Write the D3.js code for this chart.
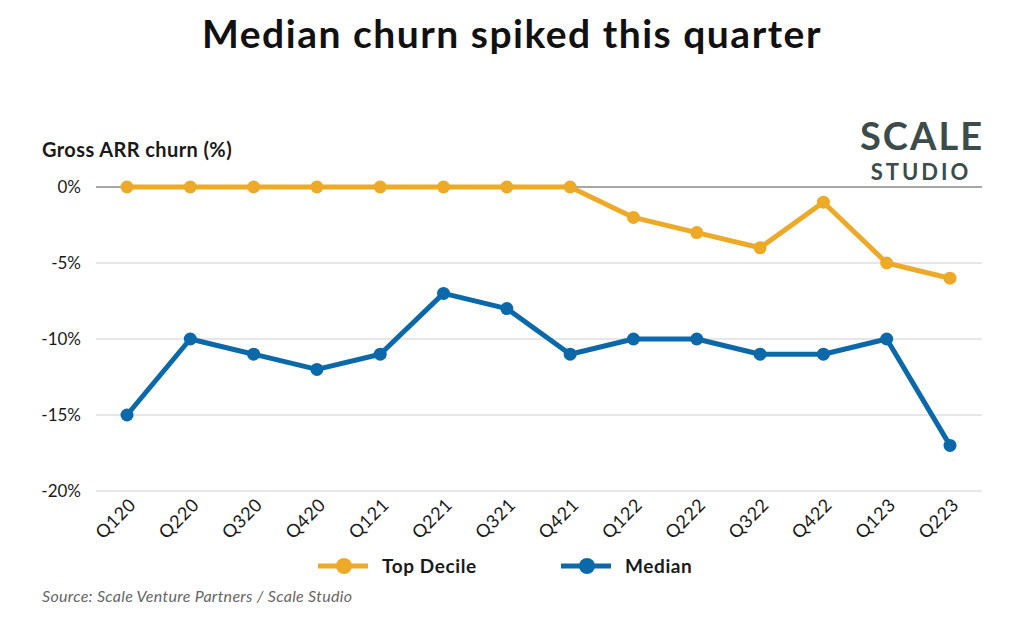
<!DOCTYPE html>
<html>
<head>
<meta charset="utf-8">
<script src="https://cdn.jsdelivr.net/npm/d3@7"></script>
<style>
  body { margin: 0; background: #fff; }
  text { font-family: Lato, "Noto Sans", sans-serif; }
</style>
</head>
<body>
<script>
// data
var quarters = ['Q120','Q220','Q320','Q420','Q121','Q221','Q321','Q421','Q122','Q222','Q322','Q422','Q123','Q223'];
var topDecile = [0,0,0,0,0,0,0,0,-2,-3,-4,-1,-5,-6];
var median = [-15,-10,-11,-12,-11,-7,-8,-11,-10,-10,-11,-11,-10,-17];
var yTicks = [0,-5,-10,-15,-20];

var W = 1024, H = 626;
var orange = '#ECAA28', blue = '#0B69AA';

var svg = d3.select('body').append('svg')
  .attr('width', W).attr('height', H);

// title
svg.append('text')
  .attr('x', 512).attr('y', 48)
  .attr('text-anchor', 'middle')
  .style('font-size', '39px').style('font-weight', 700).style('fill', '#111')
  .style('letter-spacing', '1.5px')
  .text('Median churn spiked this quarter');

// axis title
svg.append('text')
  .attr('x', 42).attr('y', 157)
  .style('font-size', '20px').style('font-weight', 700).style('fill', '#1a1a1a')
  .style('letter-spacing', '0.4px')
  .text('Gross ARR churn (%)');

// logo
svg.append('text')
  .attr('x', 922).attr('y', 150)
  .attr('text-anchor', 'middle')
  .style('font-size', '38px').style('font-weight', 700).style('fill', '#3b4c4a')
  .style('letter-spacing', '2px')
  .text('SCALE');
svg.append('text')
  .attr('x', 921).attr('y', 180)
  .attr('text-anchor', 'middle')
  .style('font-size', '22px').style('font-weight', 700).style('fill', '#3b4c4a')
  .style('letter-spacing', '3px')
  .text('STUDIO');

var x = d3.scalePoint().domain(quarters).range([127, 950]);
var y = d3.scaleLinear().domain([-20, 0]).range([491, 187]);

// grid
svg.append('g').selectAll('line').data(yTicks).join('line')
  .attr('x1', 96).attr('x2', 982)
  .attr('y1', d => y(d)).attr('y2', d => y(d))
  .attr('stroke', d => d === 0 ? '#8a8a8a' : '#cfcfd4')
  .attr('stroke-width', d => d === 0 ? 1.3 : 1.2);

// y labels
svg.append('g').selectAll('text').data(yTicks).join('text')
  .attr('x', 81).attr('y', d => y(d) + 6)
  .attr('text-anchor', 'end')
  .style('font-size', '17px').style('fill', '#1a1a1a')
  .text(d => d + '%');

// x labels
svg.append('g').selectAll('text').data(quarters).join('text')
  .attr('text-anchor', 'end')
  .attr('transform', d => 'translate(' + (x(d) + 10) + ',506) rotate(-45)')
  .style('font-size', '18px').style('fill', '#1a1a1a')
  .style('letter-spacing', '0.6px')
  .text(d => d);

var line = d3.line().x((d, i) => x(quarters[i])).y(d => y(d));

function drawSeries(vals, color) {
  svg.append('path').datum(vals)
    .attr('d', line)
    .attr('fill', 'none')
    .attr('stroke', color)
    .attr('stroke-width', 5)
    .attr('stroke-linejoin', 'round');
  svg.append('g').selectAll('circle').data(vals).join('circle')
    .attr('cx', (d, i) => x(quarters[i]))
    .attr('cy', d => y(d))
    .attr('r', 6.5)
    .attr('fill', color);
}
drawSeries(topDecile, orange);
drawSeries(median, blue);

// legend
var legend = [
  {name: 'Top Decile', color: orange, x: 318},
  {name: 'Median', color: blue, x: 561}
];
var lg = svg.append('g').selectAll('g').data(legend).join('g')
  .attr('transform', d => 'translate(' + d.x + ',566)');
lg.append('line').attr('x1', 0).attr('x2', 50)
  .attr('stroke', d => d.color).attr('stroke-width', 5);
lg.append('circle').attr('cx', 26).attr('r', 8).attr('fill', d => d.color);
lg.append('text').attr('x', 64).attr('y', 7)
  .style('font-size', '19px').style('font-weight', 700).style('fill', '#1a1a1a')
  .style('letter-spacing', '0.6px')
  .text(d => d.name);

// source
svg.append('text')
  .attr('x', 42).attr('y', 602)
  .style('font-size', '16px').style('font-style', 'italic').style('fill', '#666')
  .style('letter-spacing', '0.3px')
  .text('Source: Scale Venture Partners / Scale Studio');
</script>
</body>
</html>
